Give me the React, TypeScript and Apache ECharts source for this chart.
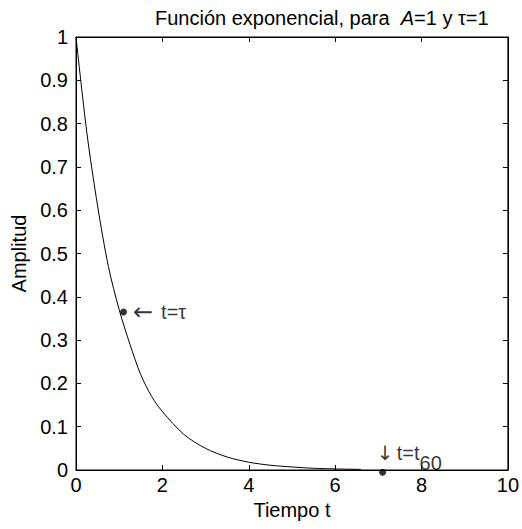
import React, { useEffect, useRef } from "react";
import * as echarts from "echarts";

const tValues = [0, 0.25, 0.5, 0.75, 1, 1.25, 1.5, 1.75, 2, 2.5, 3, 3.5, 4, 4.5, 5, 5.5, 6, 6.6];
const amplitudes = [1, 0.78, 0.61, 0.47, 0.37, 0.29, 0.22, 0.17, 0.135, 0.082, 0.05, 0.03, 0.018, 0.011, 0.007, 0.004, 0.0025, 0.0014];
const markT = [1.1, 7.1];
const markA = [0.365, -0.005];
const FONT = "Liberation Sans, Arial, sans-serif";
const ARROW_FONT = "DejaVu Sans, sans-serif";

const mkLine = () => ({ show: true, onZero: false, lineStyle: { color: "#000", width: 1 } });
const mkTick = () => ({ show: true, inside: true, length: 5, lineStyle: { color: "#000", width: 1 } });

export default function App() {
  const ref = useRef<HTMLDivElement>(null);
  useEffect(() => {
    if (!ref.current) return;
    const chart = echarts.init(ref.current, null, { renderer: "svg" });
    const lineData = tValues.map((t, i) => [t, amplitudes[i]]);
    const rich = {
      n: { fontFamily: FONT, fontSize: 20, color: "#000" },
      a: { fontFamily: ARROW_FONT, fontSize: 20, color: "#000" },
      b: { fontFamily: ARROW_FONT, fontSize: 24, color: "#000", padding: [0, 8, 0, 0] },
      s: { fontFamily: FONT, fontSize: 20, color: "#000", padding: [20, 0, 0, 0] },
    };
    chart.setOption({
      animation: false,
      backgroundColor: "#fff",
      textStyle: { fontFamily: FONT },
      title: {
        text: "{n|Función exponencial, para  }{i|A}{n|=1 y τ=1}",
        left: 150,
        top: 3,
        textStyle: {
          rich: {
            n: { fontFamily: FONT, fontSize: 20, fontWeight: "normal", color: "#000" },
            i: { fontFamily: FONT, fontSize: 20, fontWeight: "normal", fontStyle: "italic", color: "#000" },
          },
        },
      },
      grid: { left: 76, right: 12, top: 37, bottom: 59, containLabel: false, show: true, borderColor: "#000", borderWidth: 1, backgroundColor: "transparent" },
      xAxis: [
        {
          type: "value", min: 0, max: 10, interval: 2,
          name: "Tiempo t", nameLocation: "middle", nameGap: 28,
          nameTextStyle: { fontFamily: FONT, fontSize: 20, color: "#000" },
          axisLine: mkLine(), axisTick: mkTick(), splitLine: { show: false },
          axisLabel: { fontFamily: FONT, fontSize: 20, color: "#000", margin: 5 },
        },
        {
          type: "value", min: 0, max: 10, interval: 2, position: "top",
          axisLine: mkLine(), axisTick: mkTick(), splitLine: { show: false }, axisLabel: { show: false },
        },
      ],
      yAxis: [
        {
          type: "value", min: 0, max: 1, interval: 0.1,
          name: "Amplitud", nameLocation: "middle", nameGap: 39,
          nameTextStyle: { fontFamily: FONT, fontSize: 20, color: "#000" },
          axisLine: mkLine(), axisTick: mkTick(), splitLine: { show: false },
          axisLabel: { fontFamily: FONT, fontSize: 20, color: "#000", margin: 8 },
        },
        {
          type: "value", min: 0, max: 1, interval: 0.1, position: "right",
          axisLine: mkLine(), axisTick: mkTick(), splitLine: { show: false }, axisLabel: { show: false },
        },
      ],
      series: [
        {
          type: "line", data: lineData, smooth: 0.3, showSymbol: false,
          lineStyle: { color: "#000", width: 1 },
        },
        {
          type: "scatter", symbolSize: 7, clip: false,
          itemStyle: { color: "#000" },
          data: [
            {
              value: [markT[0], markA[0]],
              label: {
                show: true, position: "right", distance: 6, color: "#000",
                formatter: "{b|←}{n|t=τ}", rich,
              },
            },
            {
              value: [markT[1], markA[1]],
              label: {
                show: true, position: "top", align: "left", distance: 3, color: "#000",
                offset: [-6, 7],
                formatter: "{a|↓} {n|t=t}{s|60}", rich,
              },
            },
          ],
        },
      ],
    });
    return () => chart.dispose();
  }, []);
  return <div ref={ref} style={{ position: "fixed", left: 0, top: 0, width: 522, height: 529 }} />;
}
